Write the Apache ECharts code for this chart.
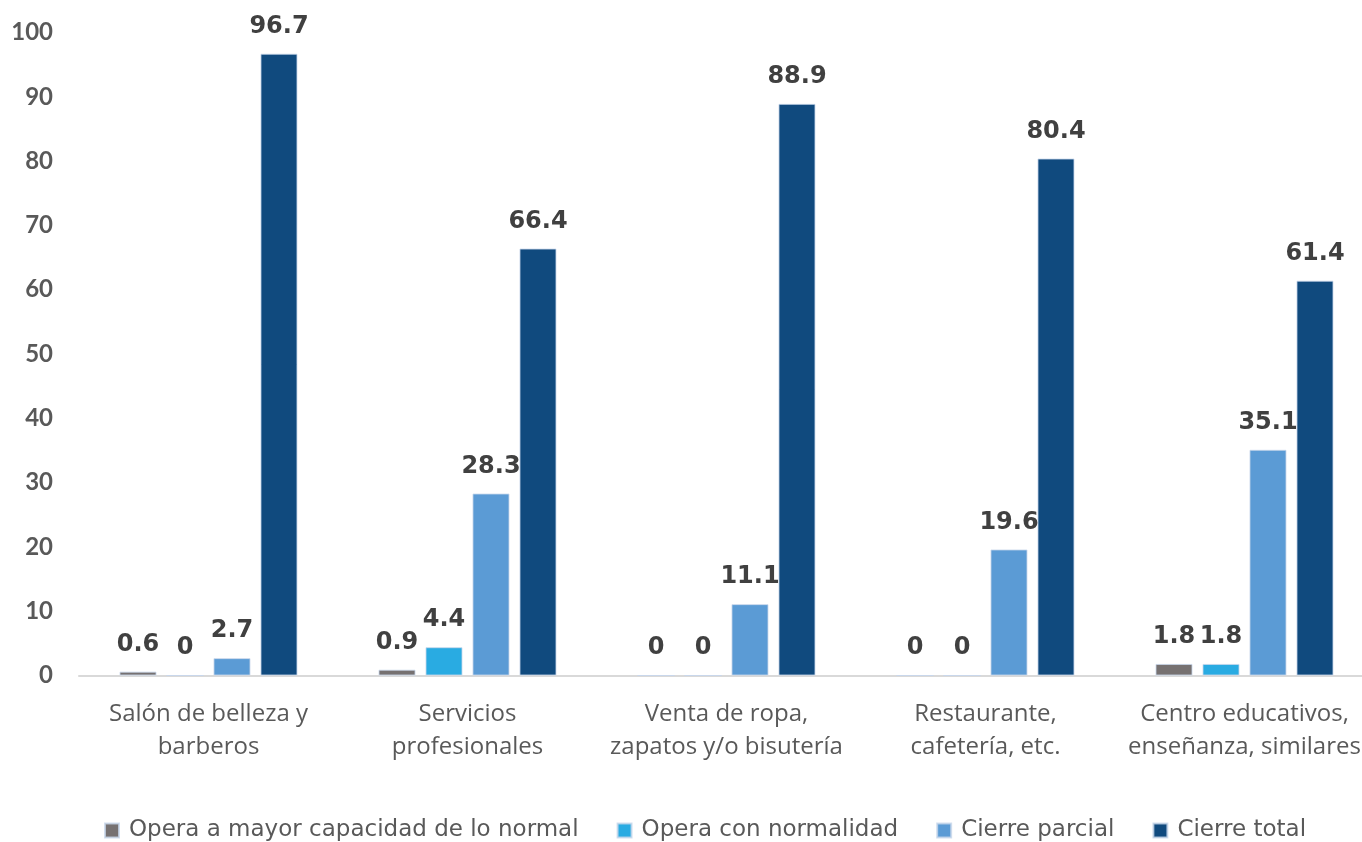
<!DOCTYPE html>
<html>
<head>
<meta charset="utf-8">
<script src="https://cdn.jsdelivr.net/npm/echarts@6/dist/echarts.min.js"></script>
<style>html,body{margin:0;padding:0;background:#fff}#c{width:1362px;height:842px}</style>
</head>
<body>
<div id="c"></div>
<script>
const categories = ["Salón de belleza y\nbarberos", "Servicios\nprofesionales", "Venta de ropa,\nzapatos y/o bisutería", "Restaurante,\ncafetería, etc.", "Centro educativos,\nenseñanza, similares"];
const seriesNames = ["Opera a mayor capacidad de lo normal", "Opera con normalidad", "Cierre parcial", "Cierre total"];
const mayorCapacidad = [0.6, 0.9, 0, 0, 1.8];
const normalidad = [0, 4.4, 0, 0, 1.8];
const cierreParcial = [2.7, 28.3, 11.1, 19.6, 35.1];
const cierreTotal = [96.7, 66.4, 88.9, 80.4, 61.4];
const colors = ["#767171", "#29ABE2", "#5B9BD5", "#104A7E"];

const chart = echarts.init(document.getElementById('c'));
const data = [mayorCapacidad, normalidad, cierreParcial, cierreTotal];
chart.setOption({
  animation: false,
  grid: { left: 79, width: 1295, top: 32.5, bottom: 166.5, outerBoundsMode: 'none', containLabel: false },
  legend: {
    bottom: -5, left: 99,
    itemWidth: 14, itemHeight: 14, itemGap: 38,
    icon: 'rect',
    textStyle: { fontFamily: 'DejaVu Sans', fontSize: 23, color: '#595959', padding: [0, 0, 0, 5] },
    data: seriesNames
  },
  xAxis: {
    type: 'category', data: categories,
    axisLine: { lineStyle: { color: '#d9d9d9', width: 2 } },
    axisTick: { show: false },
    axisLabel: { interval: 0, fontFamily: 'Open Sans', fontSize: 24, color: '#595959', lineHeight: 33, margin: 22 }
  },
  yAxis: {
    type: 'value', min: 0, max: 100, interval: 10,
    splitLine: { show: false },
    axisLine: { show: false }, axisTick: { show: false },
    axisLabel: { fontFamily: 'Lato', fontWeight: 'bold', fontSize: 24, color: '#595959', margin: 26 }
  },
  series: data.map((d, i) => ({
    name: seriesNames[i], type: 'bar', data: d,
    barWidth: 37, barGap: '27%',
    itemStyle: { color: colors[i], borderColor: 'rgba(200,215,235,0.8)', borderWidth: 1 },
    label: { show: true, position: 'top', distance: 15, fontFamily: 'DejaVu Sans', fontWeight: 'bold', fontSize: 24, color: '#404040' }
  }))
});
</script>
</body>
</html>
